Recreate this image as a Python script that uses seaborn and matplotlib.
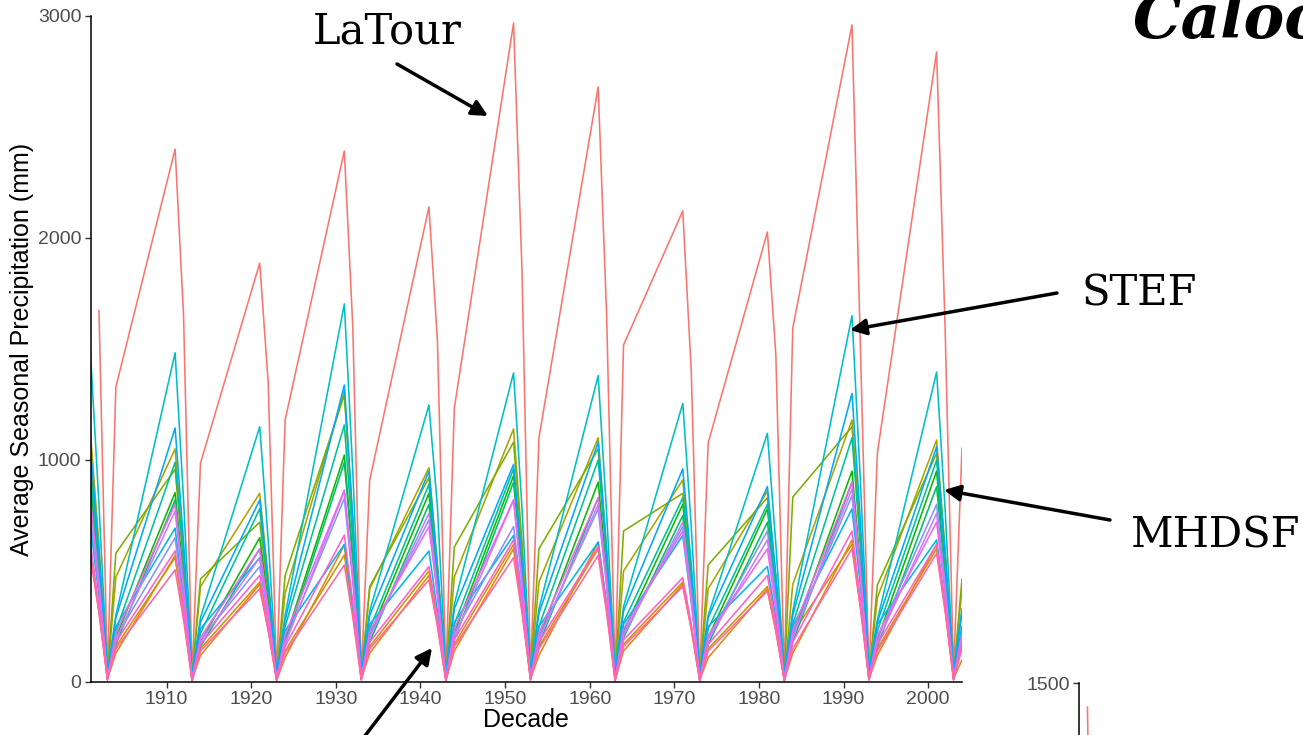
import numpy as np
import pandas as pd
import matplotlib
matplotlib.use('Agg')
import matplotlib.pyplot as plt
import seaborn as sns

decades = [1900, 1910, 1920, 1930, 1940, 1950, 1960, 1970, 1980, 1990, 2000]
seasons = ['Winter', 'Spring', 'Summer', 'Fall']
# each season is drawn one year after the previous one inside its decade
season_step = {'Winter': 1, 'Spring': 2, 'Summer': 3, 'Fall': 4}

# seasonal means (mm), one value per decade
latour_w = [np.nan, 2400, 1887, 2392, 2140, 2968, 2680, 2122, 2027, 2960, 2838]
latour_sp = [1675, 1650, 1350, 1600, 1540, 1850, 1650, 1400, 1473, 1500, 1600]
latour_su = [30, 25, 20, 30, 30, 35, 30, 25, 30, 35, 40]
latour_f = [1329, 986, 1180, 910, 1234, 1100, 1518, 1077, 1595, 1032, 1054]

boggs_w = [580, 570, 440, 617, 480, 600, 630, 440, 420, 640, 620]
boggs_sp = [320, 310, 240, 340, 260, 330, 350, 240, 230, 350, 340]
boggs_su = [15, 10, 10, 15, 10, 15, 10, 10, 10, 15, 15]
boggs_f = [130, 120, 110, 130, 140, 120, 140, 110, 130, 120, 100]

hopland_w = [600, 560, 450, 572, 500, 620, 600, 450, 430, 620, 600]
hopland_sp = [330, 310, 250, 320, 280, 340, 330, 250, 240, 340, 330]
hopland_su = [20, 15, 15, 20, 15, 20, 15, 15, 15, 20, 20]
hopland_f = [160, 150, 140, 160, 170, 160, 170, 150, 220, 150, 160]

jackson_w = [1120, 1050, 850, 1311, 965, 1140, 1100, 910, 860, 1180, 1090]
jackson_sp = [620, 580, 470, 720, 530, 630, 600, 500, 470, 650, 600]
jackson_su = [25, 20, 20, 25, 20, 25, 20, 20, 20, 25, 25]
jackson_f = [473, 430, 400, 420, 473, 450, 500, 420, 440, 380, 420]

caspar_w = [1000, 958, 720, 1293, 920, 1080, 1050, 850, 830, 1150, 1030]
caspar_sp = [560, 530, 400, 710, 510, 600, 580, 470, 460, 630, 570]
caspar_su = [30, 25, 25, 30, 25, 30, 25, 25, 25, 30, 30]
caspar_f = [581, 464, 480, 430, 608, 600, 680, 527, 833, 437, 464]

sagehen_w = [900, 853, 650, 1022, 850, 930, 900, 800, 780, 950, 950]
sagehen_sp = [500, 470, 360, 560, 470, 510, 500, 440, 430, 520, 520]
sagehen_su = [20, 15, 15, 20, 15, 20, 15, 15, 15, 20, 20]
sagehen_f = [200, 180, 190, 210, 220, 200, 230, 200, 210, 190, 200]

mhdsf_w = [850, 820, 600, 990, 800, 900, 830, 750, 720, 900, 880]
mhdsf_sp = [470, 450, 330, 550, 440, 500, 460, 410, 400, 500, 480]
mhdsf_su = [15, 15, 10, 15, 15, 15, 15, 10, 15, 15, 15]
mhdsf_f = [170, 160, 170, 180, 190, 170, 200, 170, 180, 160, 175]

whitaker_w = [950, 990, 780, 1158, 890, 960, 1000, 830, 800, 1100, 1000]
whitaker_sp = [530, 550, 430, 640, 490, 530, 550, 460, 440, 610, 550]
whitaker_su = [25, 20, 20, 25, 20, 20, 20, 20, 20, 25, 25]
whitaker_f = [230, 220, 250, 240, 260, 250, 270, 240, 260, 230, 240]

stef_w = [1480, 1483, 1150, 1703, 1248, 1392, 1380, 1255, 1120, 1650, 1396]
stef_sp = [800, 820, 640, 950, 790, 780, 760, 700, 620, 900, 780]
stef_su = [40, 35, 30, 45, 40, 40, 45, 35, 40, 50, 45]
stef_f = [300, 290, 300, 320, 350, 330, 340, 300, 320, 280, 330]

soquel_w = [700, 693, 560, 620, 590, 660, 630, 660, 520, 780, 640]
soquel_sp = [390, 380, 310, 340, 320, 360, 350, 360, 290, 430, 350]
soquel_su = [35, 30, 30, 35, 30, 35, 30, 30, 30, 35, 35]
soquel_f = [250, 240, 230, 260, 270, 250, 260, 250, 250, 260, 250]

blodgett_w = [1050, 1144, 820, 1338, 950, 980, 1080, 960, 880, 1300, 1060]
blodgett_sp = [580, 630, 450, 740, 520, 540, 590, 530, 480, 720, 580]
blodgett_su = [30, 25, 25, 30, 25, 30, 25, 25, 25, 30, 30]
blodgett_f = [290, 270, 280, 300, 330, 310, 320, 290, 300, 270, 310]

teakettle_w = [750, 650, 520, 827, 730, 700, 780, 700, 680, 840, 800]
teakettle_sp = [410, 360, 290, 450, 400, 390, 430, 390, 370, 460, 440]
teakettle_su = [20, 15, 15, 20, 15, 20, 15, 15, 15, 20, 20]
teakettle_f = [200, 190, 180, 210, 220, 200, 220, 200, 210, 200, 210]

yosemite_w = [800, 770, 560, 860, 760, 820, 800, 720, 640, 870, 760]
yosemite_sp = [440, 420, 310, 470, 420, 450, 440, 400, 350, 480, 420]
yosemite_su = [15, 10, 10, 15, 10, 15, 10, 10, 10, 15, 15]
yosemite_f = [190, 180, 170, 200, 200, 190, 210, 190, 200, 180, 190]

shasta_w = [820, 800, 600, 865, 700, 820, 830, 680, 600, 900, 720]
shasta_sp = [450, 440, 330, 480, 390, 450, 460, 370, 330, 500, 400]
shasta_su = [10, 10, 10, 10, 10, 10, 10, 10, 10, 10, 10]
shasta_f = [220, 200, 210, 230, 240, 220, 240, 210, 230, 210, 220]

tahoe_w = [620, 591, 480, 662, 520, 640, 610, 470, 480, 680, 620]
tahoe_sp = [340, 330, 260, 360, 290, 350, 340, 260, 260, 370, 340]
tahoe_su = [10, 5, 5, 10, 5, 10, 5, 5, 5, 10, 10]
tahoe_f = [180, 170, 160, 180, 190, 180, 190, 170, 180, 170, 180]

redwood_w = [560, 505, 420, 527, 460, 560, 570, 430, 410, 600, 580]
redwood_sp = [310, 280, 230, 290, 250, 310, 310, 240, 230, 330, 320]
redwood_su = [10, 5, 5, 10, 5, 10, 5, 5, 5, 10, 10]
redwood_f = [150, 140, 130, 150, 160, 150, 160, 140, 150, 140, 150]

precip = {
    'LaTour': (latour_w, latour_sp, latour_su, latour_f),
    'Boggs': (boggs_w, boggs_sp, boggs_su, boggs_f),
    'Hopland': (hopland_w, hopland_sp, hopland_su, hopland_f),
    'Jackson': (jackson_w, jackson_sp, jackson_su, jackson_f),
    'Caspar': (caspar_w, caspar_sp, caspar_su, caspar_f),
    'Sagehen': (sagehen_w, sagehen_sp, sagehen_su, sagehen_f),
    'MHDSF': (mhdsf_w, mhdsf_sp, mhdsf_su, mhdsf_f),
    'Whitaker': (whitaker_w, whitaker_sp, whitaker_su, whitaker_f),
    'STEF': (stef_w, stef_sp, stef_su, stef_f),
    'Soquel': (soquel_w, soquel_sp, soquel_su, soquel_f),
    'Blodgett': (blodgett_w, blodgett_sp, blodgett_su, blodgett_f),
    'Teakettle': (teakettle_w, teakettle_sp, teakettle_su, teakettle_f),
    'Yosemite': (yosemite_w, yosemite_sp, yosemite_su, yosemite_f),
    'Shasta': (shasta_w, shasta_sp, shasta_su, shasta_f),
    'Tahoe': (tahoe_w, tahoe_sp, tahoe_su, tahoe_f),
    'Redwood': (redwood_w, redwood_sp, redwood_su, redwood_f),
}

# ggplot default hue colours for 16 groups
hue_cols = ['#F8766D', '#E68613', '#CD9600', '#ABA300', '#7CAE00', '#0CB702',
            '#00BE67', '#00C19A', '#00BFC4', '#00B8E7', '#00A9FF', '#8494FF',
            '#C77CFF', '#ED68ED', '#FF61CC', '#FF68A1']
site_order = list(precip.keys())
site_colors = dict(zip(site_order, hue_cols))

# second panel (only its top edge shows in the crop)
p2_decade = [1900, 1900, 1900]
p2_season = ['Spring', 'Summer', 'Fall']
p2_latour = [1446, 20, 1100]

rows = []
for site, parts in precip.items():
    for season, vals in zip(seasons, parts):
        for d, v in zip(decades, vals):
            rows.append((site, season, d, v))
df = pd.DataFrame(rows, columns=['site', 'season', 'decade', 'precip'])
df['x'] = df['decade'] + df['season'].map(season_step)
df = df.dropna()

df2 = pd.DataFrame({'site': 'LaTour', 'decade': p2_decade, 'season': p2_season, 'precip': p2_latour})
df2['x'] = df2['decade'] + df2['season'].map(season_step)

sns.set_theme(style='ticks')
plt.rcParams['font.family'] = ['Liberation Sans', 'DejaVu Sans']
plt.rcParams['text.color'] = 'black'

W, H = 1303, 735
fig = plt.figure(figsize=(W / 100, H / 100), dpi=100)
ax = fig.add_axes([90.5 / W, 53 / H, 871.5 / W, 666 / H])

sns.lineplot(data=df, x='x', y='precip', hue='site', hue_order=site_order,
             palette=site_colors, estimator=None, legend=False, lw=1.15, ax=ax)

ax.set_xlim(1901, 2004)
ax.set_ylim(0, 3000)
ax.set_xticks(range(1910, 2001, 10))
ax.set_yticks([0, 1000, 2000, 3000])
ax.set_xlabel('Decade', fontsize=18, color='black', labelpad=0)
ax.set_ylabel('Average Seasonal Precipitation (mm)', fontsize=18, color='black', labelpad=3)
ax.tick_params(length=4, width=1, color='#333333', labelsize=14, labelcolor='#4D4D4D', pad=2.5)
sns.despine(ax=ax)
for sp in ['left', 'bottom']:
    ax.spines[sp].set_color('black')
    ax.spines[sp].set_linewidth(1.1)

# the next panel peeking in at the bottom right
ax2 = fig.add_axes([1079 / W, (H - 683 - 666) / H, 871.5 / W, 666 / H])
sns.lineplot(data=df2, x='x', y='precip', color=site_colors['LaTour'],
             estimator=None, lw=1.15, ax=ax2)
ax2.set_xlim(1901, 2004)
ax2.set_ylim(0, 1500)
ax2.set_yticks([1500])
ax2.set_xticks([])
ax2.set_xlabel('')
ax2.set_ylabel('')
ax2.tick_params(length=4, width=1, color='#333333', labelsize=14, labelcolor='#4D4D4D', pad=2.5)
sns.despine(ax=ax2)
ax2.spines['left'].set_color('black')
ax2.spines['left'].set_linewidth(1.1)


def fp(x, y):
    return (x, H - y)


serif = ['DejaVu Serif']
fig.text(387 / W, 1 - 43 / H, 'LaTour', ha='center', va='baseline', fontsize=30,
         family=serif, color='black')
fig.text(1139 / W, 1 - 305 / H, 'STEF', ha='center', va='baseline', fontsize=30,
         family=serif, color='black')
fig.text(1131 / W, 1 - 548 / H, 'MHDSF', ha='left', va='baseline', fontsize=30,
         family=serif, color='black')
fig.text(1132 / W, 1 - 38 / H, 'Caloo', ha='left', va='baseline', fontsize=44,
         fontweight='bold', fontstyle='italic', family=serif, color='black')

arrows = [((397, 64), (488, 116)),
          ((1057, 293), (850, 330)),
          ((1110, 520), (944, 490)),
          ((358, 745), (432, 648))]
for start, end in arrows:
    ax.annotate('', xy=fp(*end), xytext=fp(*start), xycoords='figure pixels',
                textcoords='figure pixels', annotation_clip=False,
                arrowprops=dict(arrowstyle='-|>', color='black', lw=2.5,
                                mutation_scale=24, shrinkA=0, shrinkB=0))

fig.savefig('out.png', dpi=100)
